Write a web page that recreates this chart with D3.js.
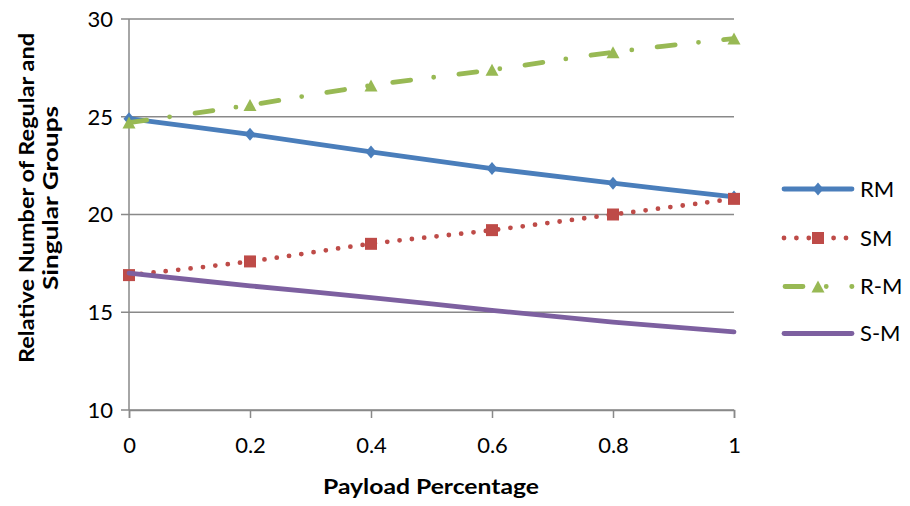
<!DOCTYPE html>
<html>
<head>
<meta charset="utf-8">
<script src="https://cdn.jsdelivr.net/npm/d3@7"></script>
<style>
  html, body { margin: 0; padding: 0; background: #fff; }
  svg { display: block; }
  text { font-family: Lato, "Open Sans", sans-serif; fill: #000; }
</style>
</head>
<body>
<svg id="chart" width="910" height="506"></svg>
<script>
// Payload percentages along the horizontal axis
const payload = [0, 0.2, 0.4, 0.6, 0.8, 1];

// Relative number of regular / singular groups per series
const rm  = [24.9, 24.1, 23.2, 22.35, 21.6, 20.9];
const sm  = [16.9, 17.6, 18.5, 19.2, 20.0, 20.8];
const rMinus = [24.7, 25.6, 26.6, 27.4, 28.3, 29.0];
const sMinus = [17.0, 16.35, 15.75, 15.1, 14.5, 14.0];

const seriesNames = ["RM", "SM", "R-M", "S-M"];
const xTicks = [0, 0.2, 0.4, 0.6, 0.8, 1];
const xTickLabels = ["0", "0.2", "0.4", "0.6", "0.8", "1"];
const yTicks = [10, 15, 20, 25, 30];

const svg = d3.select("#chart");

const x = d3.scaleLinear().domain([0, 1]).range([129, 734]);
const y = d3.scaleLinear().domain([10, 30]).range([410, 19]);

const gridColor = "#898989";
const labelSize = 22;

// Horizontal gridlines (extending left as tick marks)
svg.append("g")
  .selectAll("line")
  .data(yTicks)
  .join("line")
  .attr("x1", x(0) - 8).attr("x2", x(1))
  .attr("y1", d => y(d)).attr("y2", d => y(d))
  .attr("stroke", gridColor).attr("stroke-width", 1.5);

// Vertical axis line
svg.append("line")
  .attr("x1", x(0)).attr("x2", x(0))
  .attr("y1", y(30)).attr("y2", y(10))
  .attr("stroke", gridColor).attr("stroke-width", 1.5);

// Horizontal axis with outward ticks
const xAxis = d3.axisBottom(x)
  .tickValues(xTicks)
  .tickSize(8)
  .tickFormat((d, i) => xTickLabels[i]);
const gx = svg.append("g").attr("transform", `translate(0,${y(10)})`).call(xAxis);
gx.select(".domain").attr("stroke", gridColor).attr("stroke-width", 1.5);
gx.selectAll(".tick line").attr("stroke", gridColor).attr("stroke-width", 1.5);
gx.selectAll(".tick text")
  .attr("y", 43)
  .attr("dy", null)
  .attr("font-size", labelSize)
  .attr("font-family", "Lato, 'Open Sans', sans-serif")
  .attr("fill", "#000");

// Vertical tick labels
svg.append("g")
  .selectAll("text")
  .data(yTicks)
  .join("text")
  .attr("x", 113)
  .attr("y", d => y(d))
  .attr("dy", "0.36em")
  .attr("text-anchor", "end")
  .attr("font-size", labelSize)
  .text(d => d);

// Axis titles
svg.append("text")
  .attr("x", 431).attr("y", 494)
  .attr("text-anchor", "middle")
  .attr("font-size", 21).attr("font-weight", "bold")
  .attr("textLength", 216).attr("lengthAdjust", "spacingAndGlyphs")
  .text("Payload Percentage");

const yTitle = svg.append("g").attr("transform", "translate(0,198) rotate(-90)");
yTitle.append("text")
  .attr("x", 0).attr("y", 34)
  .attr("text-anchor", "middle")
  .attr("font-size", 21).attr("font-weight", "bold")
  .attr("textLength", 330).attr("lengthAdjust", "spacingAndGlyphs")
  .text("Relative Number of Regular and");
yTitle.append("text")
  .attr("x", 0).attr("y", 58)
  .attr("text-anchor", "middle")
  .attr("font-size", 21).attr("font-weight", "bold")
  .attr("textLength", 184).attr("lengthAdjust", "spacingAndGlyphs")
  .text("Singular Groups");

// Marker shapes, centred on (0,0)
const markerPaths = {
  diamond: "M0,-6.5L5.5,0L0,6.5L-5.5,0Z",
  square: "M-6,-6H6V6H-6Z",
  triangle: "M0,-6L6.5,6L-6.5,6Z",
  none: null
};

const series = [
  { name: seriesNames[0], values: rm,     color: "#4A7EBB", dash: null,               marker: "diamond" },
  { name: seriesNames[1], values: sm,     color: "#BE4B48", dash: "0,12.4",           marker: "square" },
  { name: seriesNames[2], values: rMinus, color: "#98B954", dash: "18,23.25,0,25.45", marker: "triangle" },
  { name: seriesNames[3], values: sMinus, color: "#7D60A0", dash: null,               marker: "none" }
];

const line = d3.line()
  .x((d, i) => x(payload[i]))
  .y(d => y(d))
  .curve(d3.curveCardinal.tension(0));

const plot = svg.append("g");

// Series are drawn in order, later ones on top
series.forEach(s => {
  const g = plot.append("g");
  g.append("path")
    .attr("d", line(s.values))
    .attr("fill", "none")
    .attr("stroke", s.color)
    .attr("stroke-width", 4.8)
    .attr("stroke-linecap", "round")
    .attr("stroke-linejoin", "round")
    .attr("stroke-dasharray", s.dash);
  if (markerPaths[s.marker]) {
    g.selectAll("path.marker")
      .data(s.values)
      .join("path")
      .attr("class", "marker")
      .attr("d", markerPaths[s.marker])
      .attr("transform", (d, i) => `translate(${x(payload[i])},${y(d)})`)
      .attr("fill", s.color);
  }
});

// Legend
const legendRows = [189, 238, 286.5, 333.5];
const legend = svg.append("g");
series.forEach((s, i) => {
  const g = legend.append("g").attr("transform", `translate(0,${legendRows[i]})`);
  g.append("line")
    .attr("x1", s.marker === "triangle" ? 785 : 784)
    .attr("x2", 852)
    .attr("y1", 0).attr("y2", 0)
    .attr("stroke", s.color)
    .attr("stroke-width", 4.8)
    .attr("stroke-linecap", "round")
    .attr("stroke-dasharray", s.dash);
  if (markerPaths[s.marker]) {
    g.append("path")
      .attr("d", markerPaths[s.marker])
      .attr("transform", "translate(818,0)")
      .attr("fill", s.color);
  }
  g.append("text")
    .attr("x", 860).attr("y", 0).attr("dy", "0.36em")
    .attr("font-size", labelSize)
    .text(s.name);
});
</script>
</body>
</html>
